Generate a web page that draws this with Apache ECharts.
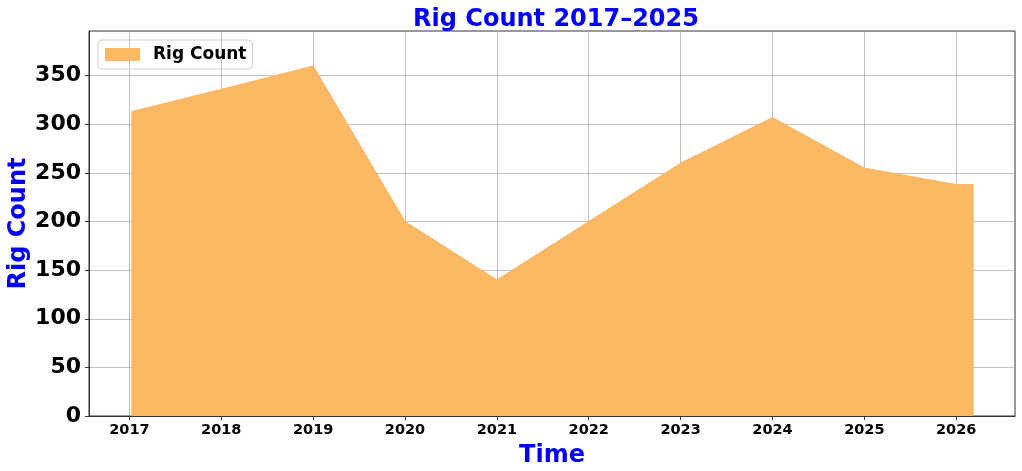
<!DOCTYPE html>
<html>
<head>
<meta charset="utf-8">
<script src="https://cdn.jsdelivr.net/npm/echarts@6/dist/echarts.min.js"></script>
<style>
  html, body { margin: 0; padding: 0; background: #fff; }
  #chart { width: 1022px; height: 471px; }
</style>
</head>
<body>
<div id="chart"></div>
<script>
// values
const years = [2017.02, 2018, 2019, 2020, 2021, 2022, 2023, 2024, 2025, 2026, 2026.19];
const rigCounts = [313, 336, 360, 200, 140, 200, 260, 307, 255, 238, 238];
const xTicks = [2017, 2018, 2019, 2020, 2021, 2022, 2023, 2024, 2025, 2026];
const yTicks = [0, 50, 100, 150, 200, 250, 300, 350];

const font = "DejaVu Sans";
const chart = echarts.init(document.getElementById("chart"));

const points = years.map((y, i) => [y, rigCounts[i]]);

const option = {
  animation: false,
  title: {
    text: "Rig Count 2017\u20132025",
    left: 551,
    textAlign: "center",
    top: 3,
    textStyle: { color: "#0000ff", fontFamily: font, fontWeight: "bold", fontSize: 24 },
  },
  legend: {
    left: 98,
    top: 40,
    data: ["Rig Count"],
    icon: "rect",
    itemWidth: 35,
    itemHeight: 13,
    padding: [6, 6, 6, 7],
    borderColor: "#d0d0d0",
    borderWidth: 1,
    borderRadius: 4,
    textStyle: { fontFamily: font, fontWeight: "bold", fontSize: 17, color: "#000", padding: [0, 0, 0, 8] },
  },
  grid: {
    left: 89,
    right: 7,
    top: 31,
    bottom: 55,
    outerBoundsMode: "none",
    containLabel: false,
    show: true,
    borderColor: "#333",
    borderWidth: 1,
  },
  xAxis: {
    type: "value",
    min: 2016.56,
    max: 2026.64,
    name: "Time",
    nameLocation: "middle",
    nameGap: 28,
    nameMoveOverlap: false,
    nameTextStyle: { color: "#0000ff", fontFamily: font, fontWeight: "bold", fontSize: 24 },
    axisLine: { show: true, lineStyle: { color: "#333", width: 1 } },
    axisTick: { show: true, length: 4, lineStyle: { color: "#333" }, customValues: xTicks },
    axisLabel: {
      customValues: xTicks,
      margin: 7,
      color: "#000",
      fontFamily: font,
      fontWeight: "bold",
      fontSize: 14.5,
      formatter: (v) => String(Math.round(v)),
    },
    splitLine: { show: true, lineStyle: { color: "#b0b0b0", width: 0.8 } },
  },
  yAxis: {
    type: "value",
    min: 0,
    max: 396,
    name: "Rig Count",
    nameLocation: "middle",
    nameGap: 58,
    nameMoveOverlap: false,
    nameTextStyle: { color: "#0000ff", fontFamily: font, fontWeight: "bold", fontSize: 24 },
    axisLine: { show: true, lineStyle: { color: "#333", width: 1 } },
    axisTick: { show: true, length: 4, lineStyle: { color: "#333" }, customValues: yTicks },
    axisLabel: {
      customValues: yTicks,
      margin: 8,
      color: "#000",
      fontFamily: font,
      fontWeight: "bold",
      fontSize: 22,
    },
    splitLine: { show: true, lineStyle: { color: "#b0b0b0", width: 0.8 } },
  },
  series: [
    {
      name: "Rig Count",
      type: "line",
      data: points,
      showSymbol: false,
      symbol: "none",
      lineStyle: { color: "#fcb25f", width: 1 },
      itemStyle: { color: "#fdb863" },
      areaStyle: { color: "#fdb863", opacity: 1 },
      z: 1,
    },
  ],
};

chart.setOption(option);
</script>
</body>
</html>
